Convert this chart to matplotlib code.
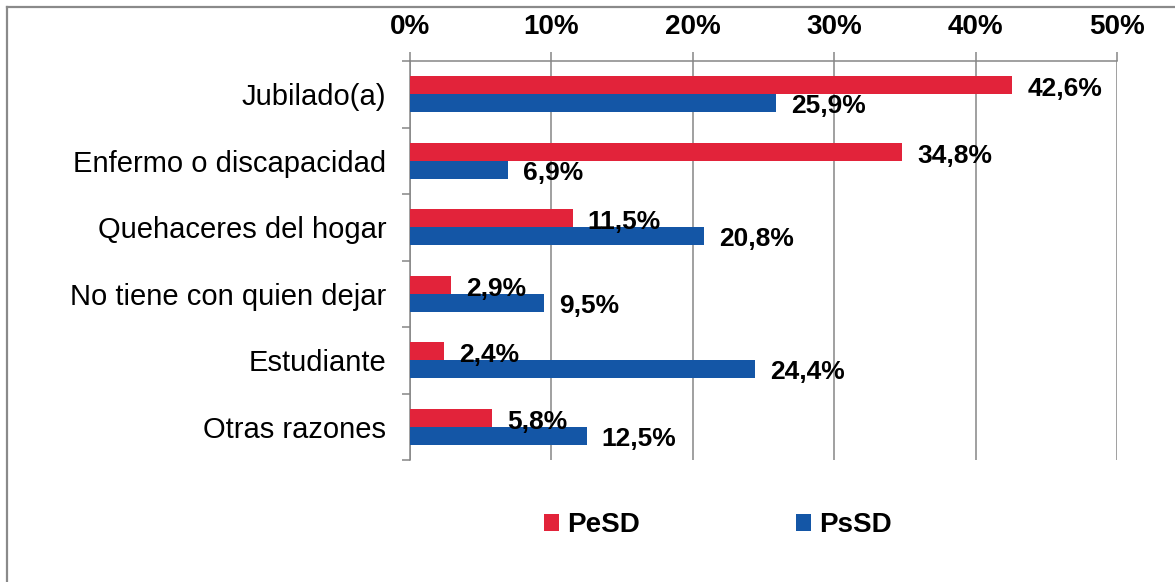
import matplotlib
matplotlib.use('Agg')
import matplotlib.pyplot as plt
from matplotlib.lines import Line2D
import numpy as np

plt.rcParams['font.family'] = ['Liberation Sans', 'DejaVu Sans']

categories = ['Jubilado(a)', 'Enfermo o discapacidad', 'Quehaceres del hogar',
              'No tiene con quien dejar', 'Estudiante', 'Otras razones']
pesd = [42.6, 34.8, 11.5, 2.9, 2.4, 5.8]
pssd = [25.9, 6.9, 20.8, 9.5, 24.4, 12.5]
series_names = ['PeSD', 'PsSD']
xticks = [0, 10, 20, 30, 40, 50]

red = '#E2233A'
blue = '#1456A6'
grid_col = '#868686'

fig = plt.figure(figsize=(11.75, 5.82), dpi=100)
ax = fig.add_axes([410/1175, 1 - 460/582, 707/1175, 399/582])

y = np.arange(len(categories))
h = 0.27
b1 = ax.barh(y - h/2, pesd, height=h, color=red, label=series_names[0], zorder=3)
b2 = ax.barh(y + h/2, pssd, height=h, color=blue, label=series_names[1], zorder=3)

def fmt(v):
    return ('%.1f%%' % v).replace('.', ',')

for yy, v in zip(y - h/2, pesd):
    ax.annotate(fmt(v), (v, yy), xytext=(15, -4), textcoords='offset pixels',
                ha='left', va='center', fontsize=19, fontweight='bold', zorder=4)
for yy, v in zip(y + h/2, pssd):
    ax.annotate(fmt(v), (v, yy), xytext=(15, -3), textcoords='offset pixels',
                ha='left', va='center', fontsize=19, fontweight='bold', zorder=4)

ax.set_xlim(0, 50)
ax.set_ylim(len(categories) - 0.5, -0.5)
ax.xaxis.tick_top()
ax.set_xticks(xticks)
ax.set_xticklabels(['%d%%' % t for t in xticks], fontsize=20, fontweight='bold')
ax.tick_params(axis='x', length=6.5, width=1.1, color=grid_col, pad=8.5)
ax.xaxis.grid(True, color=grid_col, linewidth=1.1, zorder=0)

ax.set_yticks(y)
ax.set_yticklabels(categories, fontsize=21)
ax.tick_params(axis='y', which='major', length=0, pad=17)
ax.set_yticks(np.arange(len(categories) + 1) - 0.5, minor=True)
ax.tick_params(axis='y', which='minor', length=6, width=1.1, color=grid_col)

for s in ['right', 'bottom']:
    ax.spines[s].set_visible(False)
for s in ['top', 'left']:
    ax.spines[s].set_color(grid_col)
    ax.spines[s].set_linewidth(1.1)

fig.legend(handles=[b1, b2], loc='center', bbox_to_anchor=(718/1175, 1 - 525/582),
           ncol=2, frameon=False, handlelength=0.55, handleheight=0.55,
           handletextpad=0.3, columnspacing=5.6,
           prop={'size': 20, 'weight': 'bold'})

# outer frame (top and left edges)
fig.add_artist(Line2D([6.5/1175, 1], [1 - 6.5/582, 1 - 6.5/582], transform=fig.transFigure,
                      color='#8a8a8a', linewidth=1.6))
fig.add_artist(Line2D([6.5/1175, 6.5/1175], [0, 1 - 6.5/582], transform=fig.transFigure,
                      color='#8a8a8a', linewidth=1.6))

fig.savefig('out.png', dpi=100)
